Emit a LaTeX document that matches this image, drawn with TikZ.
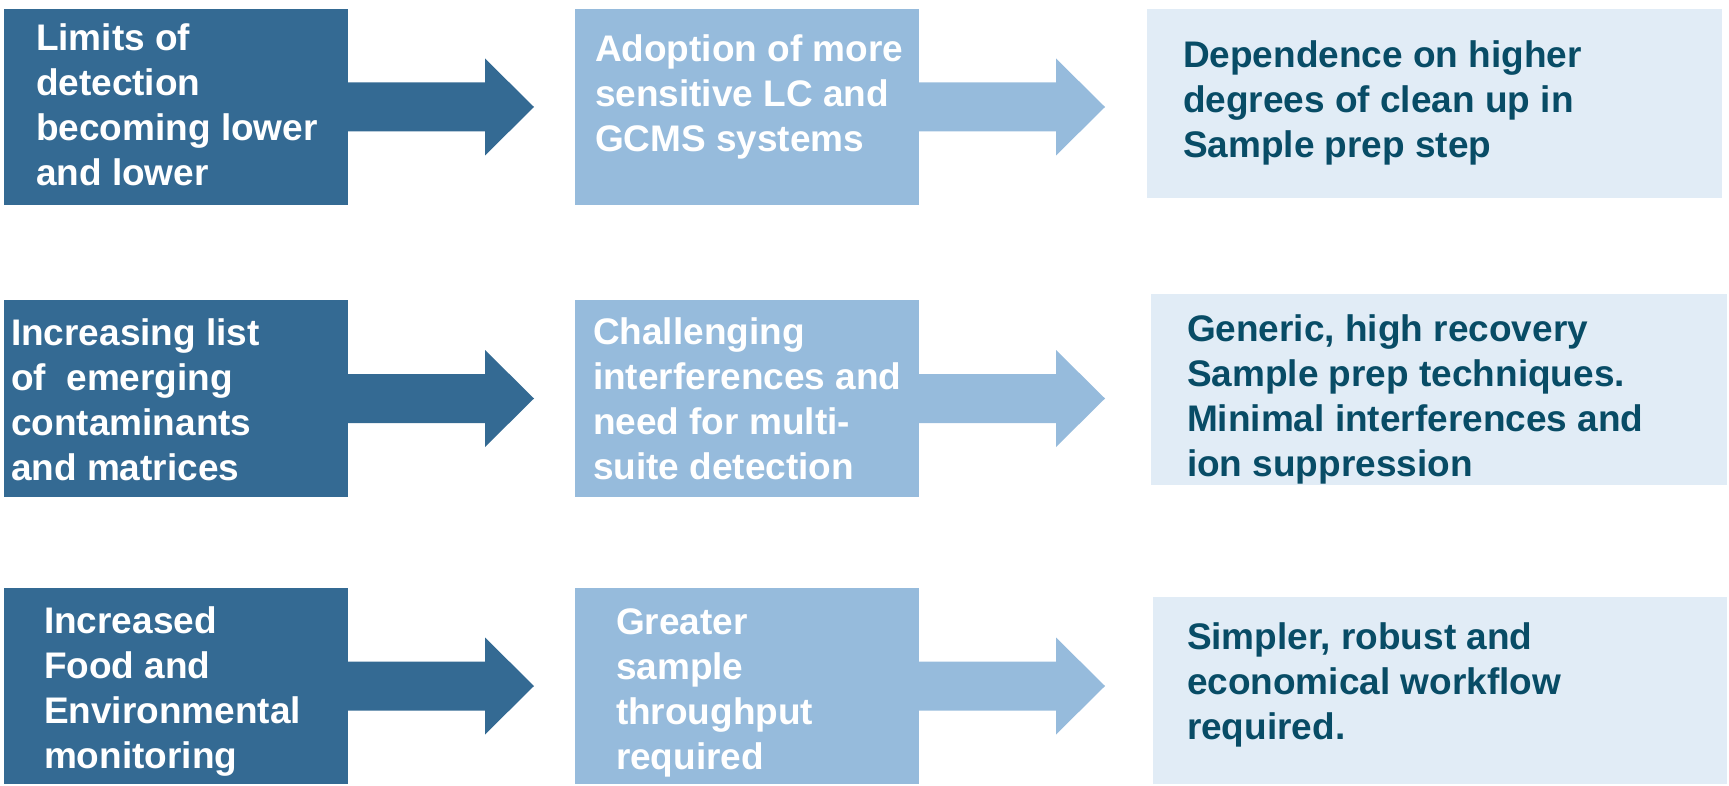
\documentclass[tikz,border=0pt]{standalone}
\usepackage{fontspec}
\setmainfont{Liberation Sans}
\usetikzlibrary{calc}
\definecolor{dkblue}{RGB}{52,106,147}
\definecolor{mdblue}{RGB}{150,187,220}
\definecolor{ltblue}{RGB}{225,236,246}
\definecolor{tealtxt}{RGB}{8,76,102}
\newcommand{\blockarrow}[2]{%
  \fill[#1] let \p1=(#2.east) in
    (\x1,\y1+24.5pt) -- (\x1+137pt,\y1+24.5pt) -- (\x1+137pt,\y1+48.5pt)
    -- (\x1+186pt,\y1) -- (\x1+137pt,\y1-48.5pt) -- (\x1+137pt,\y1-24.5pt)
    -- (\x1,\y1-24.5pt) -- cycle;}
\begin{document}
\begin{tikzpicture}[x=1pt,y=-1pt,
  boxbase/.style={anchor=north west, inner sep=0pt, outer sep=0pt},
  dbox/.style={boxbase, fill=dkblue},
  mbox/.style={boxbase, fill=mdblue},
  lbox/.style={boxbase, fill=ltblue},
  txt/.style={anchor=north west, inner sep=0pt, outer sep=0pt, align=left,
    font=\fontsize{37pt}{45pt}\selectfont\bfseries},
  wtxt/.style={txt, text=white},
  ttxt/.style={txt, text=tealtxt}]
\useasboundingbox (0,0) rectangle (1729,786);
% row 1
\node[dbox, minimum width=344pt, minimum height=196pt] (A1) at (4,9) {};
\node[mbox, minimum width=344pt, minimum height=196pt] (B1) at (575,9) {};
\node[lbox, minimum width=575pt, minimum height=189pt] (C1) at (1147,9) {};
% row 2
\node[dbox, minimum width=344pt, minimum height=197pt] (A2) at (4,300) {};
\node[mbox, minimum width=344pt, minimum height=197pt] (B2) at (575,300) {};
\node[lbox, minimum width=576pt, minimum height=191pt] (C2) at (1151,294) {};
% row 3
\node[dbox, minimum width=344pt, minimum height=196pt] (A3) at (4,588) {};
\node[mbox, minimum width=344pt, minimum height=196pt] (B3) at (575,588) {};
\node[lbox, minimum width=574pt, minimum height=187pt] (C3) at (1153,597) {};
% arrows
\blockarrow{dkblue}{A1}
\blockarrow{mdblue}{B1}
\blockarrow{dkblue}{A2}
\blockarrow{mdblue}{B2}
\blockarrow{dkblue}{A3}
\blockarrow{mdblue}{B3}
% texts
\node[wtxt] (tA1) at (36,19.5) {\strut Limits of\\detection\\becoming lower\\and lower};
\node[wtxt] (tB1) at (595,30.5) {\strut Adoption of more\\sensitive LC and\\GCMS systems};
\node[ttxt] (tC1) at (1183,36.5) {\strut Dependence on higher\\degrees of clean up in\\Sample prep step};
\node[wtxt] (tA2) at (11,313.5) {\strut Increasing list\\of\ \ emerging\\contaminants\\and matrices};
\node[wtxt] (tB2) at (593,312.5) {\strut Challenging\\interferences and\\need for multi-\\suite detection};
\node[ttxt] (tC2) at (1187,309.5) {\strut Generic, high recovery\\Sample prep techniques.\\Minimal interferences and\\ion suppression};
\node[wtxt] (tA3) at (44,601.5) {\strut Increased\\Food and\\Environmental\\monitoring};
\node[wtxt] (tB3) at (616,602.5) {\strut Greater\\sample\\throughput\\required};
\node[ttxt] (tC3) at (1187,617.5) {\strut Simpler, robust and\\economical workflow\\required.};
\end{tikzpicture}
\end{document}
